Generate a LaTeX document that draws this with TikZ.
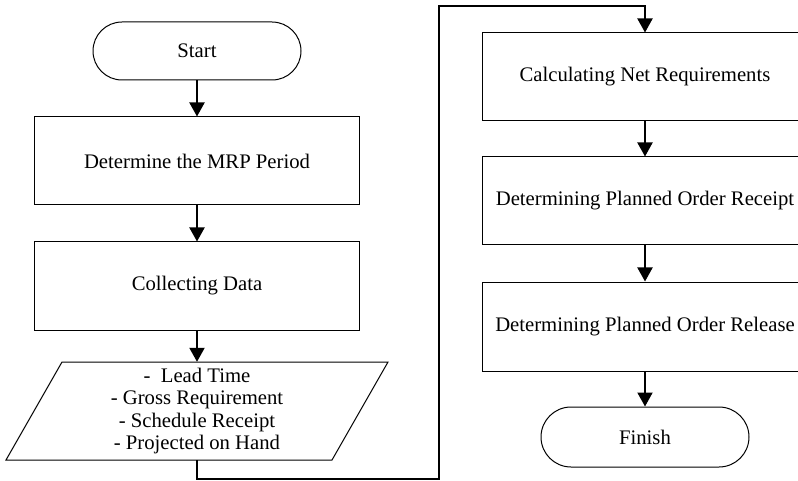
\documentclass[tikz,border=0pt]{standalone}
\usepackage{fontspec}
\setmainfont{Liberation Serif}
\usetikzlibrary{arrows.meta}
\begin{document}
\begin{tikzpicture}[x=1pt,y=-1pt,
  font=\fontsize{20.7}{22.2}\selectfont,
  procbox/.style={draw, line width=1pt, minimum width=325pt, minimum height=88pt, inner sep=0pt},
  term/.style={draw, line width=1pt, rounded corners=29pt, minimum width=208pt, minimum height=58pt, inner sep=0pt},
  flow/.style={line width=2pt, -{Triangle[width=15pt,length=14pt]}}]
\useasboundingbox (0,0) rectangle (798,481);
\node[term] (start) at (197,51) {Start};
\node[procbox] (b1) at (197,161) {Determine the MRP Period};
\node[procbox] (b2) at (197,286) {Collecting Data};
\node[minimum width=270pt, minimum height=98pt, inner sep=0pt, align=center] (data) at (197,411)
  {-~ Lead Time\\- Gross Requirement\\- Schedule Receipt\\- Projected on Hand};
\draw[line width=1pt] (62,362) -- (388,362) -- (332,460) -- (6,460) -- cycle;
\node[procbox, minimum width=326pt] (b3) at (645,77) {Calculating Net Requirements};
\node[procbox, minimum width=326pt] (b4) at (645,201) {Determining Planned Order Receipt};
\node[procbox, minimum width=326pt, minimum height=89pt] (b5) at (645,326.5) {Determining Planned Order Release};
\node[term, minimum height=60pt, rounded corners=30pt] (finish) at (645,437) {Finish};
\coordinate (c1) at (197,479);
\coordinate (c2) at (439,479);
\coordinate (c3) at (439,6);
\coordinate (c4) at (645,6);
\draw[flow] (start) -- (b1);
\draw[flow] (b1) -- (b2);
\draw[flow] (b2) -- (data.north);
\draw[flow] (data.south) -- (c1) -- (c2) -- (c3) -- (c4) -- (b3.north);
\draw[flow] (b3) -- (b4);
\draw[flow] (b4) -- (b5);
\draw[flow] (b5) -- (finish);
\end{tikzpicture}
\end{document}
